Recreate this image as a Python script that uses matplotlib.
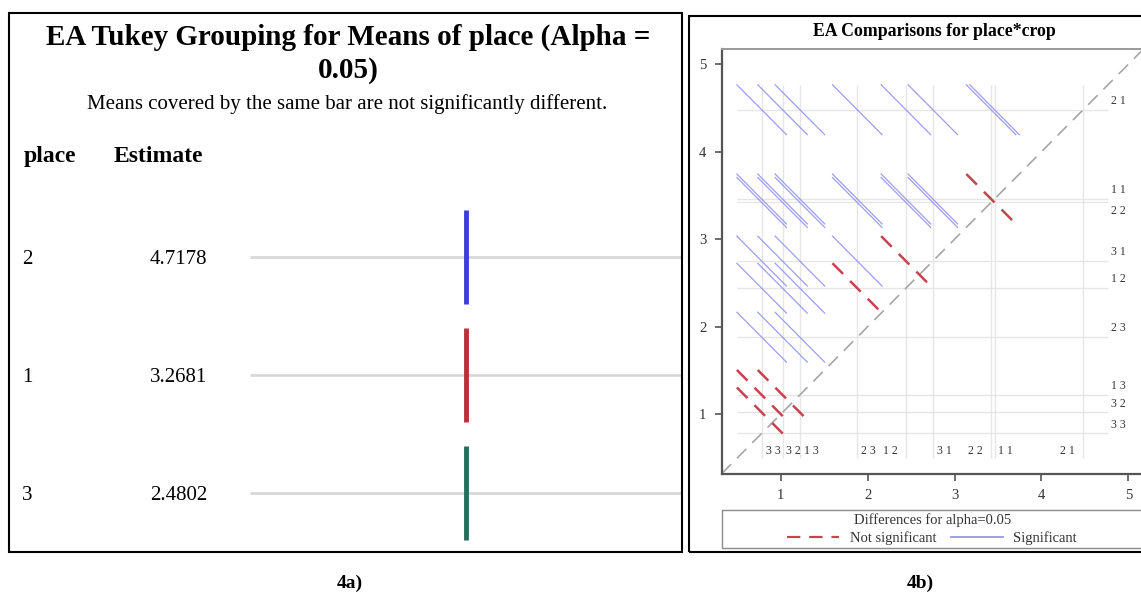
import numpy as np
import matplotlib
matplotlib.use("Agg")
import matplotlib.pyplot as plt
from matplotlib.patches import Rectangle
from matplotlib.lines import Line2D
from matplotlib.transforms import blended_transform_factory

# --- 4a : Tukey grouping ---
places = ['2', '1', '3']
estimates = [4.7178, 3.2681, 2.4802]
group_colors = ['#3d3ddb', '#b93038', '#2b6b5e']

# --- 4b : diffogram place*crop ---
lsm_labels = ['3 3', '3 2', '1 3', '2 3', '1 2', '3 1', '2 2', '1 1', '2 1']
lsm_means = [0.78, 1.02, 1.22, 1.88, 2.44, 2.75, 3.42, 3.46, 4.48]
half_ci = 0.285  # half extent of each comparison segment
not_sig = [('3 3', '3 2'), ('3 3', '1 3'), ('3 2', '1 3'),
           ('2 3', '1 2'), ('1 2', '3 1'), ('2 2', '1 1')]

W, H = 1141, 592


def fx(px):
    return px / W


def fy(py):
    return 1 - py / H


plt.rcParams['font.family'] = ['Liberation Serif', 'DejaVu Serif']
fig = plt.figure(figsize=(W / 100, H / 100), dpi=100)

# panel frames
fig.add_artist(Rectangle((fx(8.5), fy(552)), fx(681.5) - fx(8.5), fy(13) - fy(552),
                         transform=fig.transFigure, fill=False, ec='black', lw=1.5))
fig.add_artist(Rectangle((fx(688.5), fy(552)), fx(1160) - fx(688.5), fy(16) - fy(552),
                         transform=fig.transFigure, fill=False, ec='black', lw=1.5))

# ---------------- left panel ----------------
fig.text(fx(348), fy(37), 'EA Tukey Grouping for Means of place (Alpha =',
         ha='center', va='center', fontsize=21, fontweight='bold')
fig.text(fx(348), fy(71), '0.05)', ha='center', va='center', fontsize=21, fontweight='bold')
fig.text(fx(347), fy(104), 'Means covered by the same bar are not significantly different.',
         ha='center', va='center', fontsize=15)
fig.text(fx(24), fy(157), 'place', ha='left', va='center', fontsize=17, fontweight='bold')
fig.text(fx(114), fy(157), 'Estimate', ha='left', va='center', fontsize=17, fontweight='bold')

ax1 = fig.add_axes([fx(250), fy(552), fx(681) - fx(250), fy(198) - fy(552)])
rows = np.arange(len(places))
ax1.set_xlim(0, 1)
ax1.set_ylim(len(places) - 0.5, -0.5)
ax1.hlines(rows, 0, 1, color='#d8d8d8', lw=2)
ax1.vlines([0.5] * len(rows), rows - 0.4, rows + 0.4, colors=group_colors, lw=3.5)
ax1.axis('off')
tr = blended_transform_factory(fig.transFigure, ax1.transData)
for r, p, e in zip(rows, places, estimates):
    ax1.text(fx(22), r + 0.02, p, transform=tr, ha='left', va='center', fontsize=15)
    ax1.text(fx(207), r + 0.02, f'{e:.4f}', transform=tr, ha='right', va='center', fontsize=15)

fig.text(fx(350), fy(583), '4a)', ha='center', va='center', fontsize=14, fontweight='bold')

# ---------------- right panel ----------------
fig.text(fx(934), fy(31), 'EA Comparisons for place*crop', ha='center', va='center',
         fontsize=12.8, fontweight='bold')

ax2 = fig.add_axes([fx(721.7), fy(474), (1144 - 721.7) / W, (474 - 48.5) / H])
lo, hi = 0.32, 5.18
ax2.set_xlim(lo, hi)
ax2.set_ylim(0.316, hi)

m = np.array(lsm_means)
ref_lo, ref_hi = m.min() - half_ci + 0.005, m.max() + half_ci
ax2.hlines(m, ref_lo, ref_hi, color='#e6e6e6', lw=1, zorder=1)
ax2.vlines(m, ref_lo, ref_hi, color='#e6e6e6', lw=1, zorder=1)
ax2.plot([lo, hi], [lo, hi], color='#a6a6a6', lw=1.2, dashes=(8, 5), zorder=2)

ns = set(not_sig)
for i in range(len(lsm_labels)):
    for j in range(i + 1, len(lsm_labels)):
        x, y = m[i], m[j]
        xs = [x - half_ci, x + half_ci]
        ys = [y + half_ci, y - half_ci]
        if (lsm_labels[i], lsm_labels[j]) in ns:
            ax2.plot(xs, ys, color='#c9434f', lw=1.8, dashes=(6, 4), zorder=4)
        else:
            ax2.plot(xs, ys, color='#8c8cf0', lw=0.9, alpha=0.85, zorder=3)

# level labels on the right and at the bottom
right_side = {'2 2': -1}
bottom_left = {'1 2', '2 2', '2 1'}
for lab, v in zip(lsm_labels, lsm_means):
    dy = 0.1 * right_side.get(lab, 1)
    ax2.text(ref_hi + 0.03, v + dy, lab, ha='left', va='center', fontsize=8.5, color='#333333')
    dx = -0.18 if lab in bottom_left else 0.13
    ax2.text(v + dx, 0.58, lab, ha='center', va='center', fontsize=8.5, color='#333333')

for s in ['left', 'bottom']:
    ax2.spines[s].set_color('#555555')
    ax2.spines[s].set_linewidth(1.6)
ax2.spines['top'].set_color('#9a9a9a')
ax2.spines['top'].set_linewidth(1.4)
ax2.spines['right'].set_visible(False)
ax2.set_xticks([1, 2, 3, 4, 5])
ax2.set_yticks([1, 2, 3, 4, 5])
ax2.tick_params(length=5, width=1.2, color='#555555', labelsize=10.5, labelcolor='#333333', pad=6)

# legend
fig.add_artist(Rectangle((fx(721.5), fy(548)), fx(1160) - fx(721.5), fy(510) - fy(548),
                         transform=fig.transFigure, fill=False, ec='#8a8a8a', lw=1))
fig.text(fx(933), fy(520), 'Differences for alpha=0.05', ha='center', va='center',
         fontsize=10.5, color='#333333')
handles = [Line2D([], [], color='#c9434f', lw=1.6, dashes=(6, 4)),
           Line2D([], [], color='#8c8cf0', lw=1.2)]
fig.legend(handles, ['Not significant', 'Significant'], loc='center',
           bbox_to_anchor=(fx(932), fy(538)), ncol=2, frameon=False, fontsize=10.5,
           handlelength=3.6, columnspacing=1.0, handletextpad=0.7, labelcolor='#333333')

fig.text(fx(920), fy(583), '4b)', ha='center', va='center', fontsize=14, fontweight='bold')

fig.savefig('out.png', dpi=100)
